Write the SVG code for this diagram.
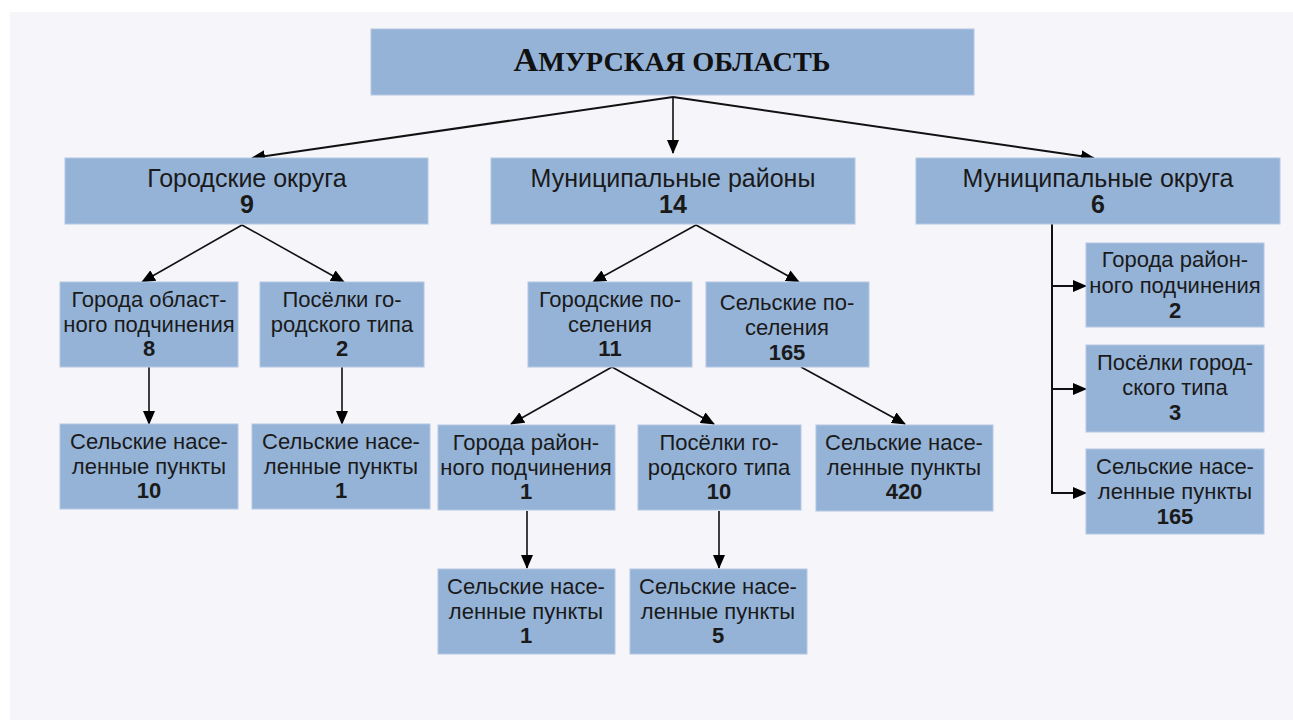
<svg xmlns="http://www.w3.org/2000/svg" width="1293" height="720" viewBox="0 0 1293 720">
<style>
.bx{fill:#95b3d7;stroke:#b4c8e2;stroke-width:1}
.t{font-family:"Liberation Sans",Arial,sans-serif;fill:#1a1a1a;text-anchor:middle}
.l2{font-size:25px}
.s{font-size:22px}
.b{font-weight:bold}
.c{fill:none;stroke:#111;stroke-width:1.6}
.c2{stroke-width:2}
</style>
<defs>
<marker id="ah" markerUnits="userSpaceOnUse" markerWidth="14" markerHeight="12" refX="13" refY="6" orient="auto" viewBox="0 0 14 12">
<path d="M0,0 L14,6 L0,12 z" fill="#000"/>
</marker>
</defs>
<rect x="0" y="0" width="1293" height="720" fill="#ffffff"/>
<rect x="10" y="12" width="1283" height="708" fill="#f5f5fa"/>

<g id="connectors">
<path class="c c2" d="M673,97 L252,158" marker-end="url(#ah)"/>
<path class="c" d="M673,97 L673,153" marker-end="url(#ah)"/>
<path class="c c2" d="M673,97 L1094,158" marker-end="url(#ah)"/>
<path class="c" d="M242,225 L142,282" marker-end="url(#ah)"/>
<path class="c" d="M242,225 L344,282" marker-end="url(#ah)"/>
<path class="c" d="M149,367 L149,424" marker-end="url(#ah)"/>
<path class="c" d="M342,367 L342,424" marker-end="url(#ah)"/>
<path class="c" d="M696,225 L593,282" marker-end="url(#ah)"/>
<path class="c" d="M696,225 L799,282" marker-end="url(#ah)"/>
<path class="c" d="M612,367 L511,424" marker-end="url(#ah)"/>
<path class="c" d="M612,367 L714,424" marker-end="url(#ah)"/>
<path class="c" d="M801,367 L905,424" marker-end="url(#ah)"/>
<path class="c" d="M527,511 L527,568" marker-end="url(#ah)"/>
<path class="c" d="M719,511 L719,568" marker-end="url(#ah)"/>
<path class="c c2" d="M1052,224 L1052,493 L1086,493" marker-end="url(#ah)"/>
<path class="c c2" d="M1052,286 L1086,286" marker-end="url(#ah)"/>
<path class="c c2" d="M1052,389 L1086,389" marker-end="url(#ah)"/>
</g>

<g id="n-amur">
<rect class="bx" x="371" y="29" width="603" height="66"/>
<text x="672" y="71" font-family="'Liberation Serif','Times New Roman',serif" font-weight="bold" fill="#111" text-anchor="middle" textLength="317" lengthAdjust="spacingAndGlyphs"><tspan font-size="34">А</tspan><tspan font-size="28">МУРСКАЯ ОБЛАСТЬ</tspan></text>
</g>

<g id="n-go">
<rect class="bx" x="65" y="158" width="363" height="66"/>
<text class="t l2" x="247" y="187">Городские округа</text>
<text class="t l2 b" x="247" y="213">9</text>
</g>
<g id="n-mr">
<rect class="bx" x="491" y="158" width="364" height="66"/>
<text class="t l2" x="673" y="187">Муниципальные районы</text>
<text class="t l2 b" x="673" y="213">14</text>
</g>
<g id="n-mo">
<rect class="bx" x="916" y="158" width="364" height="66"/>
<text class="t l2" x="1098" y="187">Муниципальные округа</text>
<text class="t l2 b" x="1098" y="213">6</text>
</g>

<g id="n-go-goroda">
<rect class="bx" x="60" y="282" width="178" height="85"/>
<text class="t s" x="149" y="307">Города област-</text>
<text class="t s" x="149" y="332">ного подчинения</text>
<text class="t s b" x="149" y="356">8</text>
</g>
<g id="n-go-pgt">
<rect class="bx" x="260" y="282" width="164" height="85"/>
<text class="t s" x="342" y="307">Посёлки го-</text>
<text class="t s" x="342" y="332">родского типа</text>
<text class="t s b" x="342" y="356">2</text>
</g>
<g id="n-go-snp1">
<rect class="bx" x="60" y="424" width="178" height="85"/>
<text class="t s" x="149" y="449">Сельские насе-</text>
<text class="t s" x="149" y="474">ленные пункты</text>
<text class="t s b" x="149" y="498">10</text>
</g>
<g id="n-go-snp2">
<rect class="bx" x="252" y="424" width="178" height="85"/>
<text class="t s" x="341" y="449">Сельские насе-</text>
<text class="t s" x="341" y="474">ленные пункты</text>
<text class="t s b" x="341" y="498">1</text>
</g>

<g id="n-mr-gp">
<rect class="bx" x="528" y="282" width="164" height="85"/>
<text class="t s" x="610" y="307">Городские по-</text>
<text class="t s" x="610" y="332">селения</text>
<text class="t s b" x="610" y="356">11</text>
</g>
<g id="n-mr-sp">
<rect class="bx" x="706" y="282" width="163" height="85"/>
<text class="t s" x="787" y="310">Сельские по-</text>
<text class="t s" x="787" y="335">селения</text>
<text class="t s b" x="787" y="360">165</text>
</g>
<g id="n-mr-grp">
<rect class="bx" x="438" y="425" width="177" height="85"/>
<text class="t s" x="526" y="450">Города район-</text>
<text class="t s" x="526" y="475">ного подчинения</text>
<text class="t s b" x="526" y="499">1</text>
</g>
<g id="n-mr-pgt">
<rect class="bx" x="638" y="425" width="163" height="85"/>
<text class="t s" x="719" y="450">Посёлки го-</text>
<text class="t s" x="719" y="475">родского типа</text>
<text class="t s b" x="719" y="499">10</text>
</g>
<g id="n-mr-snp420">
<rect class="bx" x="816" y="425" width="177" height="86"/>
<text class="t s" x="904" y="450">Сельские насе-</text>
<text class="t s" x="904" y="475">ленные пункты</text>
<text class="t s b" x="904" y="499">420</text>
</g>
<g id="n-mr-snp1">
<rect class="bx" x="438" y="569" width="177" height="85"/>
<text class="t s" x="526" y="594">Сельские насе-</text>
<text class="t s" x="526" y="619">ленные пункты</text>
<text class="t s b" x="526" y="643">1</text>
</g>
<g id="n-mr-snp5">
<rect class="bx" x="630" y="569" width="177" height="85"/>
<text class="t s" x="718" y="594">Сельские насе-</text>
<text class="t s" x="718" y="619">ленные пункты</text>
<text class="t s b" x="718" y="643">5</text>
</g>

<g id="n-mo-grp">
<rect class="bx" x="1086" y="243" width="178" height="84"/>
<text class="t s" x="1175" y="267">Города район-</text>
<text class="t s" x="1175" y="293">ного подчинения</text>
<text class="t s b" x="1175" y="318">2</text>
</g>
<g id="n-mo-pgt">
<rect class="bx" x="1086" y="345" width="178" height="87"/>
<text class="t s" x="1175" y="370">Посёлки город-</text>
<text class="t s" x="1175" y="395">ского типа</text>
<text class="t s b" x="1175" y="420">3</text>
</g>
<g id="n-mo-snp">
<rect class="bx" x="1086" y="449" width="178" height="85"/>
<text class="t s" x="1175" y="474">Сельские насе-</text>
<text class="t s" x="1175" y="499">ленные пункты</text>
<text class="t s b" x="1175" y="524">165</text>
</g>
</svg>
